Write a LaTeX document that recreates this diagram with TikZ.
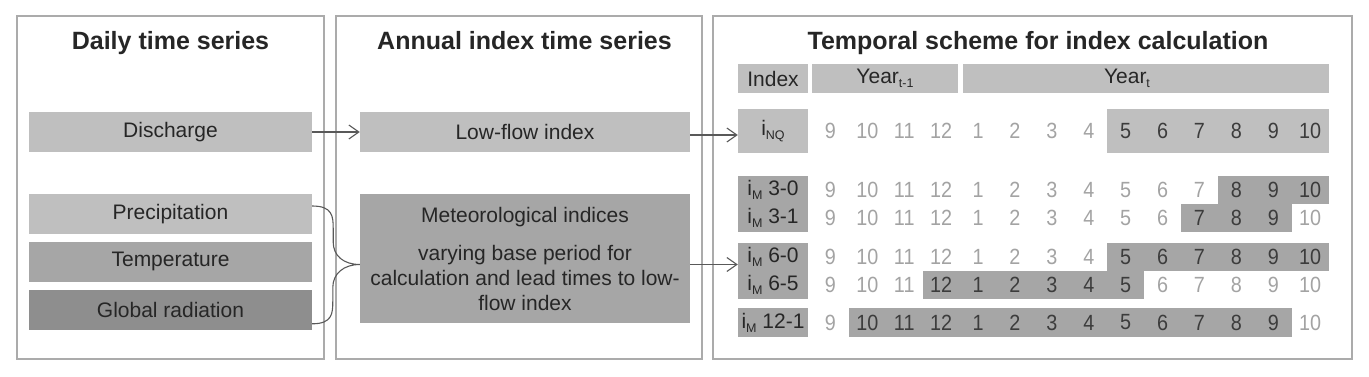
\documentclass[tikz,border=0pt]{standalone}
\usepackage{fontspec}
\setmainfont{Liberation Sans}
\newfontfamily\digitfont[FakeStretch=0.9]{Liberation Sans}
\usepackage{tikz}
\usetikzlibrary{arrows.meta,positioning,calc}
\definecolor{ink}{HTML}{262626}
\definecolor{inktwo}{HTML}{595959}
\definecolor{numdark}{HTML}{3C3C3C}
\definecolor{faint}{HTML}{A3A3A3}
\definecolor{frame}{HTML}{ABABAB}
\definecolor{glight}{HTML}{BFBFBF}
\definecolor{gmid}{HTML}{A6A6A6}
\definecolor{gdark}{HTML}{8E8E8E}
\newcommand{\low}[1]{\raisebox{-4pt}{\fontsize{12.5}{13}\selectfont #1}}
\newcommand{\im}{i\low{M}}
\tikzset{
  every node/.style={text=ink},
  panel/.style={draw=frame, line width=1.3pt, inner sep=0pt},
  ptitle/.style={font=\fontsize{25}{30}\selectfont\bfseries, anchor=base},
  % filled box; the argument is the shade of grey
  box/.style={fill=#1, inner sep=0pt, align=center, font=\fontsize{21}{25}\selectfont},
  cell/.style={inner sep=0pt, font=\digitfont\fontsize{22}{26}\selectfont},
  arr/.style={-{Straight Barb[length=10pt,width=14pt]}, line width=1.1pt, color=inktwo},
  brc/.style={line width=1.1pt, color=inktwo},
}
\begin{document}
\begin{tikzpicture}[x=1pt,y=-1pt]
  \useasboundingbox (0,0) rectangle (1369,377);
  % three panels
  \node[panel, minimum width=307pt, minimum height=343pt] (daily)  at (170.5,187.5) {};
  \node[panel, minimum width=366pt, minimum height=343pt] (annual) at (519,187.5) {};
  \node[panel, minimum width=639pt, minimum height=343pt] (scheme) at (1032.5,187.5) {};
  \node[ptitle] (tdaily)  at (170.5,49.5) {Daily time series};
  \node[ptitle] (tannual) at (524.5,49.5) {Annual index time series};
  \node[ptitle] (tscheme) at (1038,49.5) {Temporal scheme for index calculation};

  % daily time series
  \node[box=glight, minimum width=283pt, minimum height=40pt] (discharge) at (170.5,132) {Discharge};
  \node[box=glight, minimum width=283pt, minimum height=40pt] (precip) at (170.5,214) {Precipitation};
  \node[box=gmid, minimum width=283pt, minimum height=40pt, below=7.5pt of precip] (temp) {Temperature};
  \node[box=gdark, minimum width=283pt, minimum height=40pt, below=7.5pt of temp] (global) {Global radiation};

  % annual index time series
  \node[box=glight, minimum width=330pt, minimum height=40pt] (lowflow) at (525,132) {Low-flow index};
  \node[box=gmid, minimum width=330pt, minimum height=128.4pt] (meteo) at (525,258.5)
        {Meteorological indices\\[13pt]varying base period for\\calculation and lead times to low-\\flow index};

  % scheme header and index labels
  \node[box=glight, minimum width=70pt, minimum height=29pt] (hindex) at (773,78.5) {Index};
  \node[box=glight, minimum width=146pt, minimum height=29pt] (hprev) at (885,78.5) {Year\low{t-1}};
  \node[box=glight, minimum width=366pt, minimum height=29pt] (hcur) at (1146,78.5) {};
  \node[inner sep=0pt, font=\fontsize{21}{25}\selectfont] (hcurtext) at (1127,78.5) {Year\low{t}};
  \node[box=glight, minimum width=70pt, minimum height=44pt] (nq) at (773,131) {i\low{NQ}};
  \node[box=gmid, minimum width=70pt, minimum height=56pt, font=\fontsize{21}{28}\selectfont] (m3) at (773,204) {\im\ 3-0\\\im\ 3-1};
  \node[box=gmid, minimum width=70pt, minimum height=56pt, font=\fontsize{21}{28}\selectfont] (m6) at (773,271) {\im\ 6-0\\\im\ 6-5};
  \node[box=gmid, minimum width=70pt, minimum height=29pt] (m12) at (773,322.5) {\im\ 12-1};

  % month rows: name / centre / half height / first and last shaded column / shade
  \foreach \nm/\y/\hh/\lo/\hi/\col in {nq/131/22/8/13/glight, ma/190/14/11/13/gmid, mb/218/14/10/12/gmid,
                                      mc/257/14/8/13/gmid, md/285/14/3/8/gmid, me/322.5/14.5/1/12/gmid}{
    \fill[\col] (812+36.9*\lo,\y-\hh) rectangle (848.9+36.9*\hi,\y+\hh);
    \foreach \m [count=\k from 0] in {9,10,11,12,1,2,3,4,5,6,7,8,9,10}{
      \ifnum\k<\lo\relax \def\tc{faint}\else\ifnum\k>\hi\relax \def\tc{faint}\else\def\tc{numdark}\fi\fi
      \node[cell, text=\tc] (\nm-\k) at (830.45+36.9*\k,\y) {\m};
    }
  }

  % connectors
  \draw[arr] (discharge) -- (lowflow);
  \coordinate (lfout) at ([yshift=-3pt]lowflow.east);
  \draw[arr] (lfout) -- (lfout -| nq.west);
  \coordinate (meout) at ([yshift=-6pt]meteo.east);
  \draw[arr] (meout) -- (meout -| m6.west);
  \coordinate (bt) at ([yshift=8pt]precip.east);
  \coordinate (bb) at ([yshift=-14pt]global.east);
  \coordinate (btip) at ([yshift=-6pt]meteo.west);
  \draw[brc] (bt) .. controls +(20,0) and +(0,-12) .. ++(21,22) -- ++(0,14)
     .. controls +(0,14) and +(-16,0) .. (btip)
     .. controls +(-16,0) and +(0,-14) .. ++(-27,23) -- ++(0,14)
     .. controls +(0,12) and +(20,0) .. (bb);
\end{tikzpicture}
\end{document}
